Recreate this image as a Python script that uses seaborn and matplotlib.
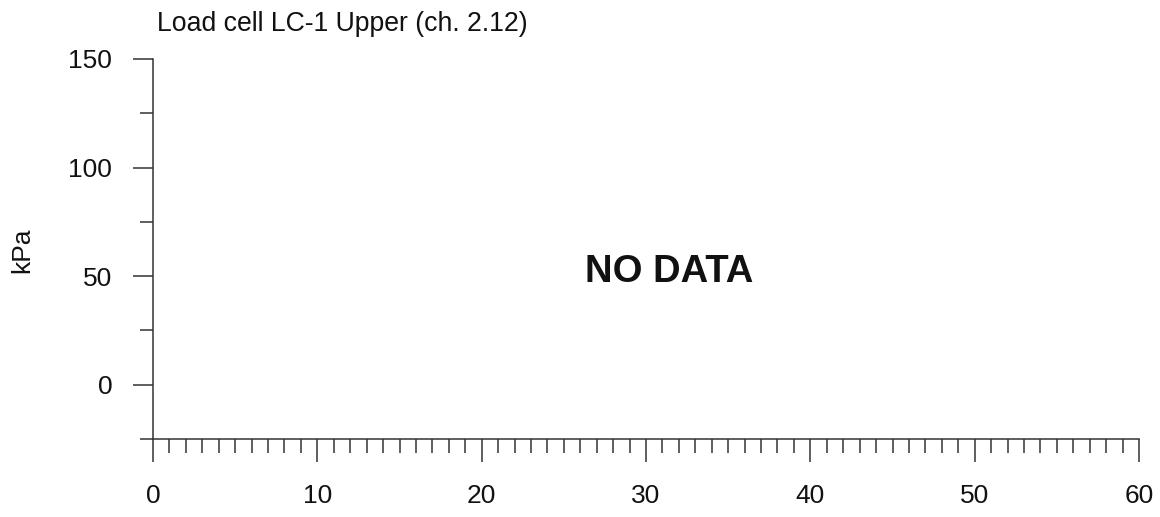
import matplotlib
matplotlib.use("Agg")
import matplotlib.pyplot as plt
import seaborn as sns
import numpy as np
from matplotlib.ticker import MultipleLocator

# ---- data / labels ----
title = "Load cell LC-1 Upper (ch. 2.12)"
y_label = "kPa"
message = "NO DATA"
x_limits = [0, 60]
y_limits = [-25, 150]
x_major_ticks = [0, 10, 20, 30, 40, 50, 60]
y_major_ticks = [0, 50, 100, 150]
x_values = []   # no data recorded
y_values = []

sns.set_style("ticks")
plt.rcParams["font.family"] = ["Liberation Sans", "DejaVu Sans"]

line_col = "#333333"
fig = plt.figure(figsize=(11.6, 5.17), dpi=100)
ax = fig.add_axes([153/1160, 1 - 439/517, (1139-153)/1160, (439-59)/517])

if len(x_values):
    sns.lineplot(x=x_values, y=y_values, ax=ax, color=line_col)

ax.set_xlim(*x_limits)
ax.set_ylim(*y_limits)
ax.set_xticks(x_major_ticks)
ax.set_yticks(y_major_ticks)
ax.xaxis.set_minor_locator(MultipleLocator(1))
ax.yaxis.set_minor_locator(MultipleLocator(25))

sns.despine(ax=ax, top=True, right=True)
for s in ["left", "bottom"]:
    ax.spines[s].set_color(line_col)
    ax.spines[s].set_linewidth(1.1)

ax.tick_params(axis="x", which="major", direction="out", length=16.5, width=1.1,
               color=line_col, labelsize=19, pad=16, labelcolor="#111111")
ax.tick_params(axis="x", which="minor", direction="out", length=10, width=1.1,
               color=line_col)
ax.tick_params(axis="y", which="major", direction="out", length=14.4, width=1.1,
               color=line_col, labelsize=19, pad=15, labelcolor="#111111")
ax.tick_params(axis="y", which="minor", direction="out", length=9.4, width=1.1,
               color=line_col)
ax.grid(False)
ax.set_facecolor("white")

ax.text(31.4, 52, message, ha="center", va="center", fontsize=27.5,
        fontweight="bold", color="#111111")

fig.text(157/1160, 1 - 24/517, title, ha="left", va="center", fontsize=19.2,
         color="#111111")
fig.text(22/1160, 1 - 250/517, y_label, ha="center", va="center", rotation=90,
         fontsize=19, color="#111111")

fig.savefig("out.png", dpi=100, facecolor="white")
